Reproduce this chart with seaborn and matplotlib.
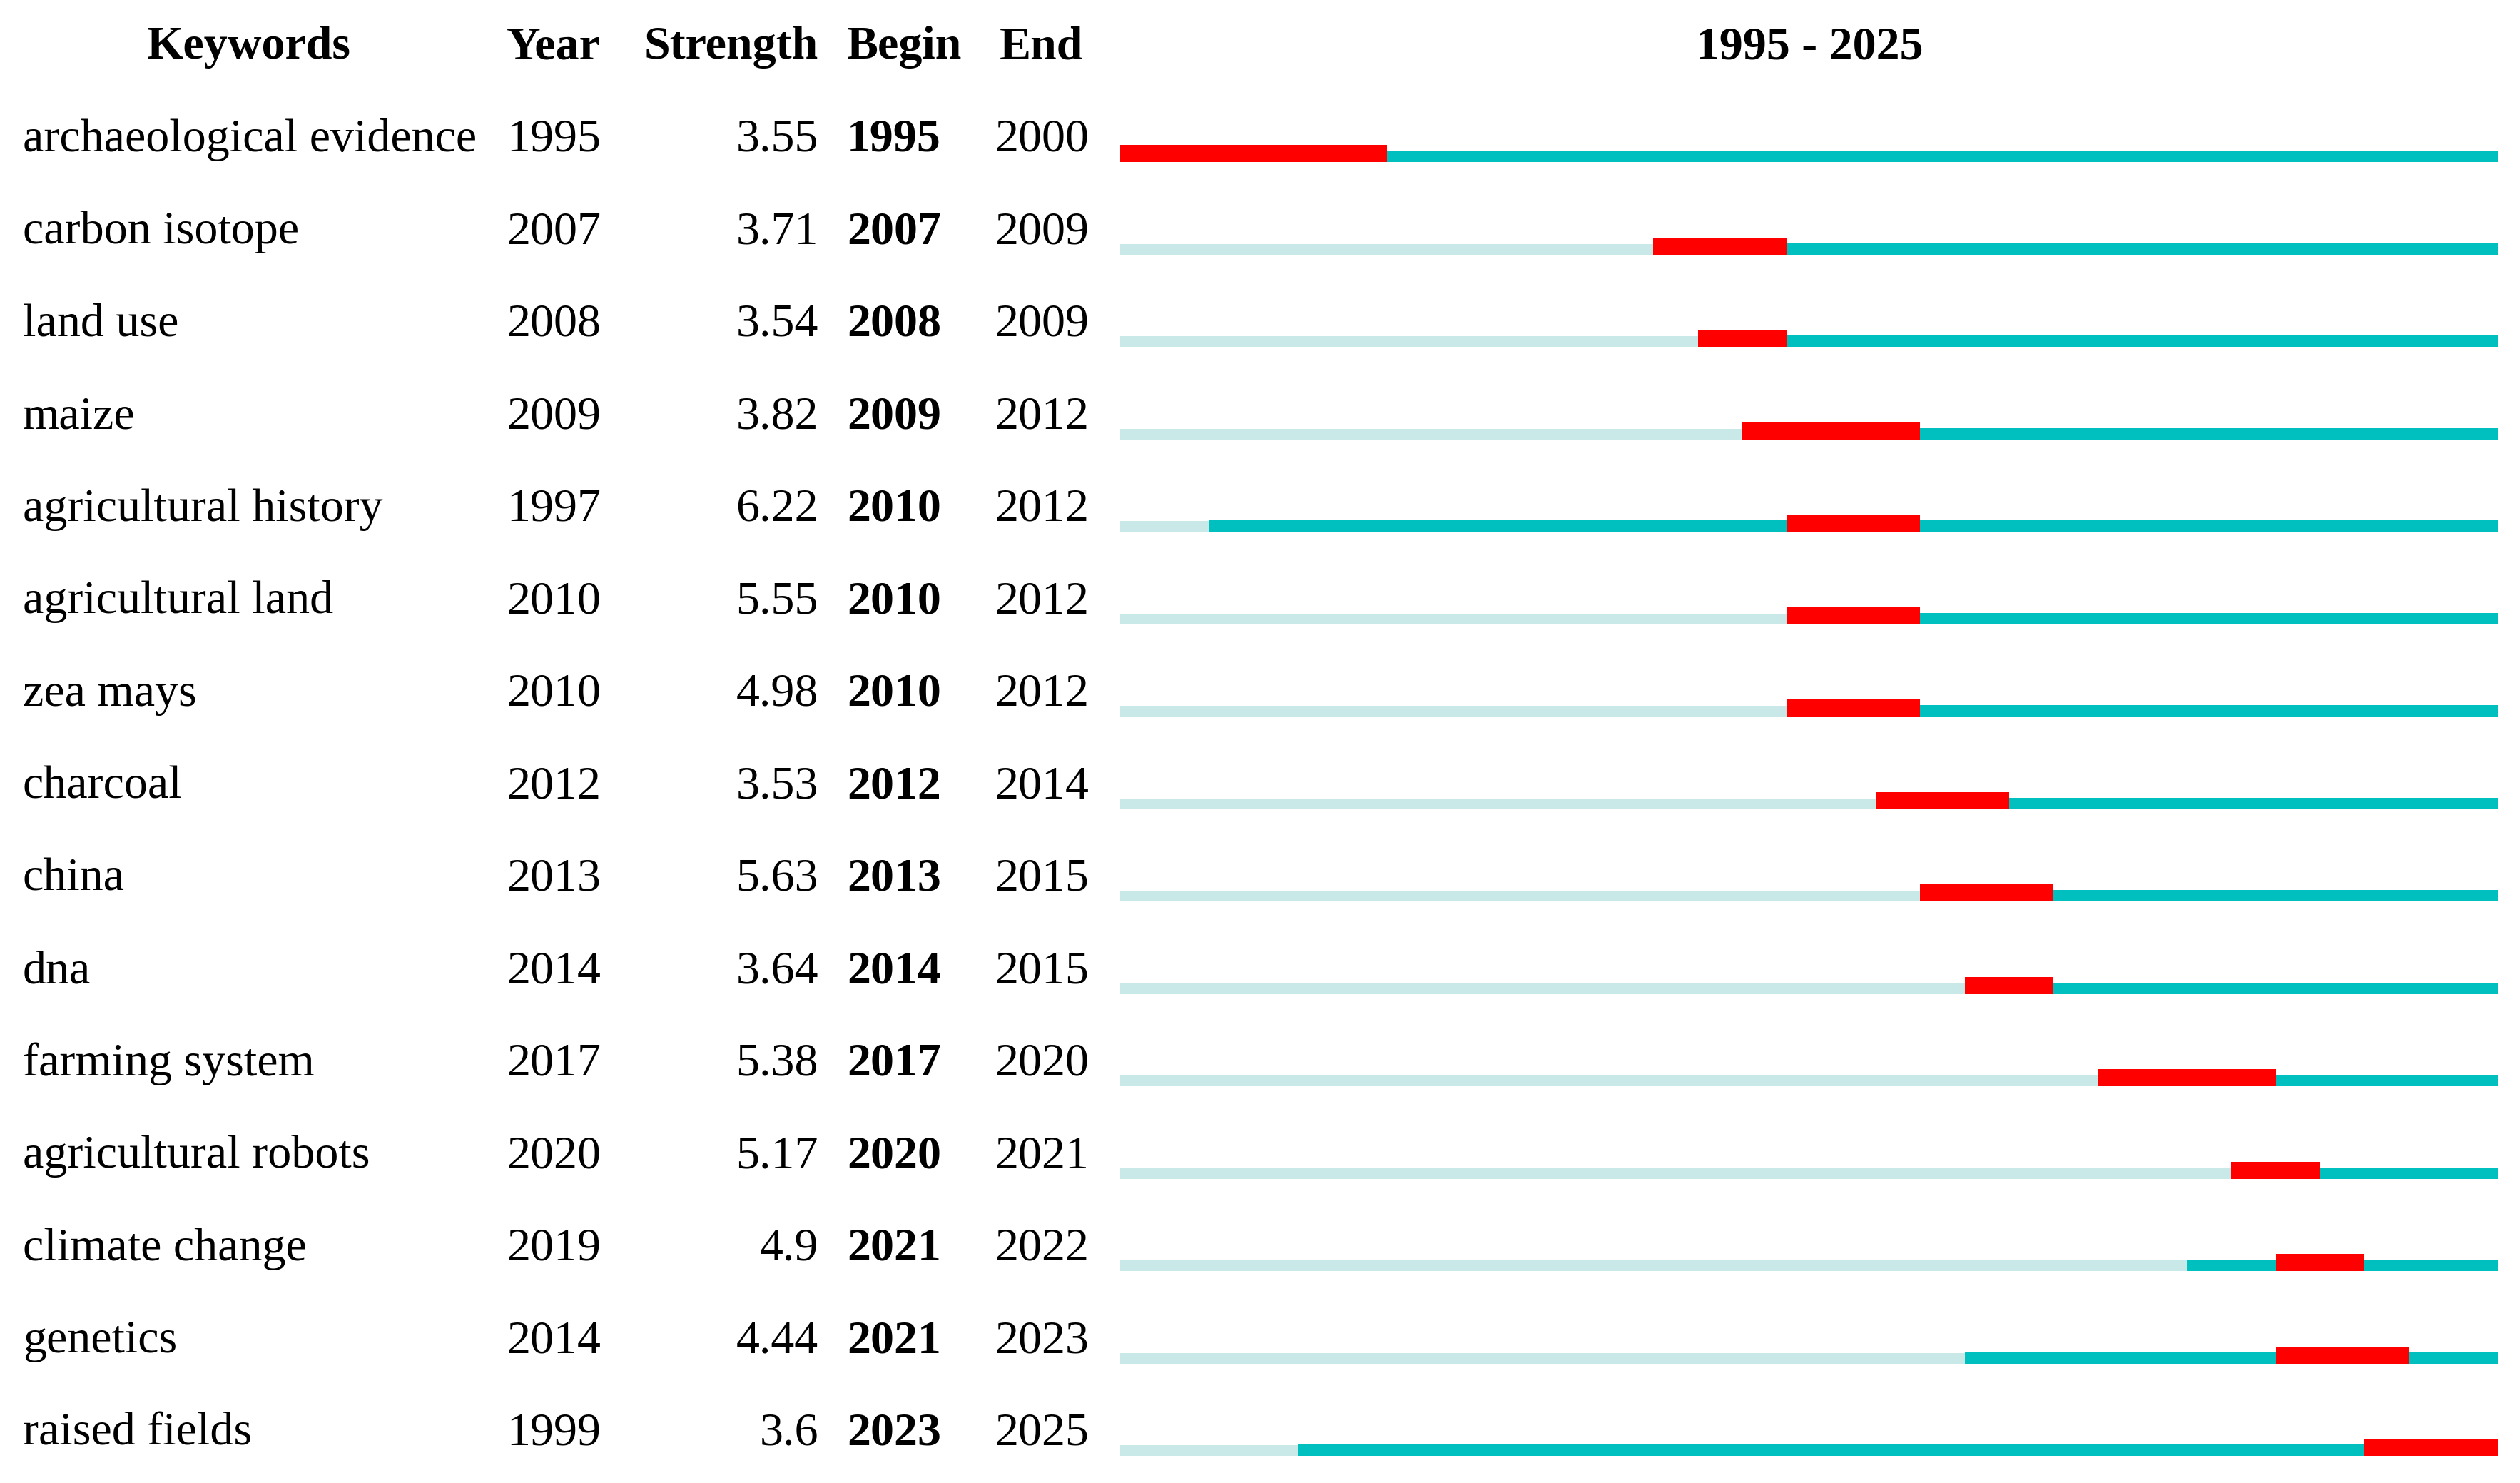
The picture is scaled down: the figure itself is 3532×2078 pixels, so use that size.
import matplotlib
matplotlib.use('Agg')
import matplotlib.pyplot as plt
import matplotlib.transforms as mtransforms
import seaborn as sns
import pandas as pd

# Burst data
keywords = ['archaeological evidence', 'carbon isotope', 'land use', 'maize',
            'agricultural history', 'agricultural land', 'zea mays', 'charcoal',
            'china', 'dna', 'farming system', 'agricultural robots',
            'climate change', 'genetics', 'raised fields']
years = [1995, 2007, 2008, 2009, 1997, 2010, 2010, 2012, 2013, 2014, 2017, 2020, 2019, 2014, 1999]
strengths = [3.55, 3.71, 3.54, 3.82, 6.22, 5.55, 4.98, 3.53, 5.63, 3.64, 5.38, 5.17, 4.9, 4.44, 3.6]
begins = [1995, 2007, 2008, 2009, 2010, 2010, 2010, 2012, 2013, 2014, 2017, 2020, 2021, 2021, 2023]
ends = [2000, 2009, 2009, 2012, 2012, 2012, 2012, 2014, 2015, 2015, 2020, 2021, 2022, 2023, 2025]
start_year, end_year = 1995, 2025

df = pd.DataFrame({'Keyword': keywords, 'Year': years, 'Strength': strengths,
                   'Begin': begins, 'End': ends})

sns.set_theme(style='white')
plt.rcParams['font.family'] = ['Liberation Serif', 'DejaVu Serif']
plt.rcParams['text.color'] = 'black'

W, H = 3532, 2078
fig = plt.figure(figsize=(W / 100, H / 100), dpi=100)
x0, x1 = 1570 / W, 3501 / W
ax = fig.add_axes([x0, 0, x1 - x0, 1])
row_px = 129.5
top_off = 227 / row_px
ax.set_ylim(H / row_px - top_off, -top_off)
ax.set_xlim(start_year, end_year + 1)
ax.axis('off')

light, teal, red = '#C9E8E8', '#00BFBF', '#FF0000'
h_light, h_teal, h_red = 15 / row_px, 16 / row_px, 24 / row_px

for i, r in df.iterrows():
    ax.barh(i - h_light / 2, r['Year'] - start_year, left=start_year,
            height=h_light, color=light, linewidth=0)
    ax.barh(i - h_teal / 2, end_year + 1 - r['Year'], left=r['Year'],
            height=h_teal, color=teal, linewidth=0)
    ax.barh(i - h_red / 2, r['End'] + 1 - r['Begin'], left=r['Begin'],
            height=h_red, color=red, linewidth=0)

# table text: x in figure pixels, y in row units
trans = mtransforms.blended_transform_factory(fig.transFigure, ax.transData)
fs = 47.5
base = -0.116
hy = -1.0 + base

def fx(px):
    return px / W

ax.text(fx(349), hy, 'Keywords', transform=trans, ha='center', va='baseline', fontsize=fs, fontweight='bold')
ax.text(fx(710), hy, 'Year', transform=trans, ha='left', va='baseline', fontsize=fs, fontweight='bold')
ax.text(fx(1147), hy, 'Strength', transform=trans, ha='right', va='baseline', fontsize=fs, fontweight='bold')
ax.text(fx(1187), hy, 'Begin', transform=trans, ha='left', va='baseline', fontsize=fs, fontweight='bold')
ax.text(fx(1460), hy, 'End', transform=trans, ha='center', va='baseline', fontsize=fs, fontweight='bold')
ax.text(fx(2536), hy, f'{start_year} - {end_year}', transform=trans, ha='center', va='baseline',
        fontsize=fs, fontweight='bold')

for i, r in df.iterrows():
    y = i + base
    ax.text(fx(32), y, r['Keyword'], transform=trans, ha='left', va='baseline', fontsize=fs)
    ax.text(fx(710), y, str(r['Year']), transform=trans, ha='left', va='baseline', fontsize=fs)
    ax.text(fx(1147), y, f"{r['Strength']:g}", transform=trans, ha='right', va='baseline', fontsize=fs)
    ax.text(fx(1187), y, str(r['Begin']), transform=trans, ha='left', va='baseline', fontsize=fs,
            fontweight='bold')
    ax.text(fx(1394), y, str(r['End']), transform=trans, ha='left', va='baseline', fontsize=fs)

fig.savefig('out.png', dpi=100, facecolor='white')
